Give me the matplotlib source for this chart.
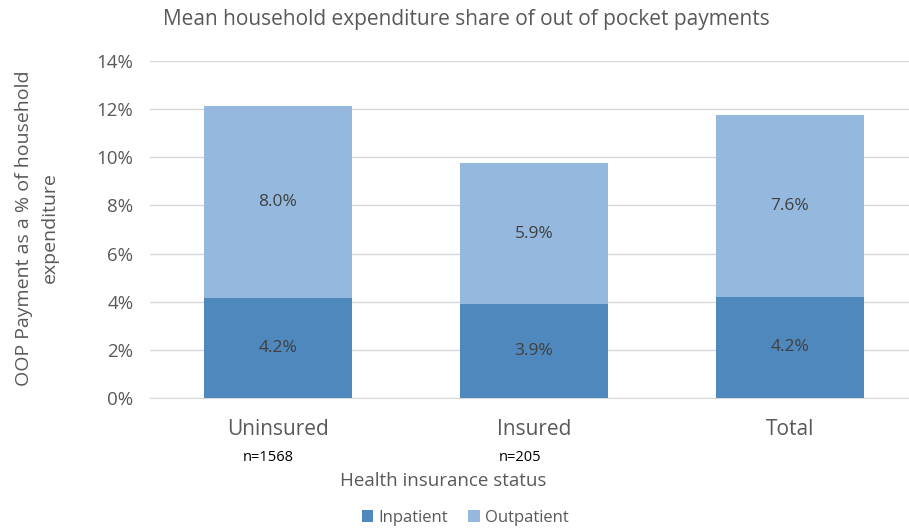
import matplotlib.pyplot as plt
import matplotlib.transforms as mtransforms
import numpy as np

# data (% of household expenditure)
categories = ['Uninsured', 'Insured', 'Total']
sample_sizes = ['n=1568', 'n=205', '']
inpatient = [4.16, 3.90, 4.20]
outpatient = [7.98, 5.86, 7.56]

c_in = '#4F88BC'
c_out = '#95B8DF'
grey = '#595959'

plt.rcParams['font.family'] = ['Open Sans', 'DejaVu Sans']

fig = plt.figure(figsize=(9.09, 5.29), dpi=100)
# axes spans x 150..909 px, y 61..398 px
ax = fig.add_axes([150 / 909, 1 - 398 / 529, (909 - 150) / 909, (398 - 61) / 529])

x = np.arange(len(categories))
w = 0.575
ax.bar(x, inpatient, w, color=c_in, label='Inpatient', zorder=3)
ax.bar(x, outpatient, w, bottom=inpatient, color=c_out, label='Outpatient', zorder=3)

for i in range(len(categories)):
    ax.text(x[i], inpatient[i] / 2, f'{inpatient[i]:.1f}%', ha='center', va='center',
            fontsize=12.5, color='#404040', zorder=4)
    ax.text(x[i], inpatient[i] + outpatient[i] / 2, f'{outpatient[i]:.1f}%', ha='center',
            va='center', fontsize=12.5, color='#404040', zorder=4)

ax.set_xlim(-0.5, 2.5 - 9 / 256)
ax.set_ylim(0, 14)
ax.set_yticks(np.arange(0, 15, 2))
ax.set_yticklabels([f'{v}%' for v in range(0, 15, 2)])
ax.yaxis.grid(True, color='#D9D9D9', linewidth=1.0, zorder=0)
ax.set_axisbelow(True)
for s in ['top', 'right', 'left']:
    ax.spines[s].set_visible(False)
ax.spines['bottom'].set_color('#D9D9D9')
ax.tick_params(axis='y', length=0, pad=12, labelsize=13.5, labelcolor=grey)
ax.tick_params(axis='x', length=0, pad=15, labelsize=15, labelcolor=grey)
ax.set_xticks(x)
ax.set_xticklabels(categories)

# sample size notes under the category names
trans = mtransforms.blended_transform_factory(ax.transData, ax.transAxes)
n_shift = [-0.04, -0.055, 0]
for i, n in enumerate(sample_sizes):
    if n:
        ax.text(x[i] + n_shift[i], -0.178, n, transform=trans, ha='center', va='center',
                fontsize=10.5, color='black', clip_on=False)

fig.text(443 / 909, 1 - 481 / 529, 'Health insurance status', ha='center', va='center',
         fontsize=13.5, color=grey)
fig.text(466 / 909, 1 - 19 / 529, 'Mean household expenditure share of out of pocket payments',
         ha='center', va='center', fontsize=15, color=grey)
fig.text(37 / 909, 1 - 228 / 529, 'OOP Payment as a % of household\nexpenditure', rotation=90,
         ha='center', va='center', fontsize=14, color=grey, linespacing=1.6)

fig.legend(loc='center', bbox_to_anchor=(465 / 909, 1 - 518 / 529), ncol=2, frameon=False,
           fontsize=12, handlelength=0.7, handleheight=0.7, handletextpad=0.3,
           columnspacing=1.2, labelcolor=grey)

plt.savefig('out.png', dpi=100)
